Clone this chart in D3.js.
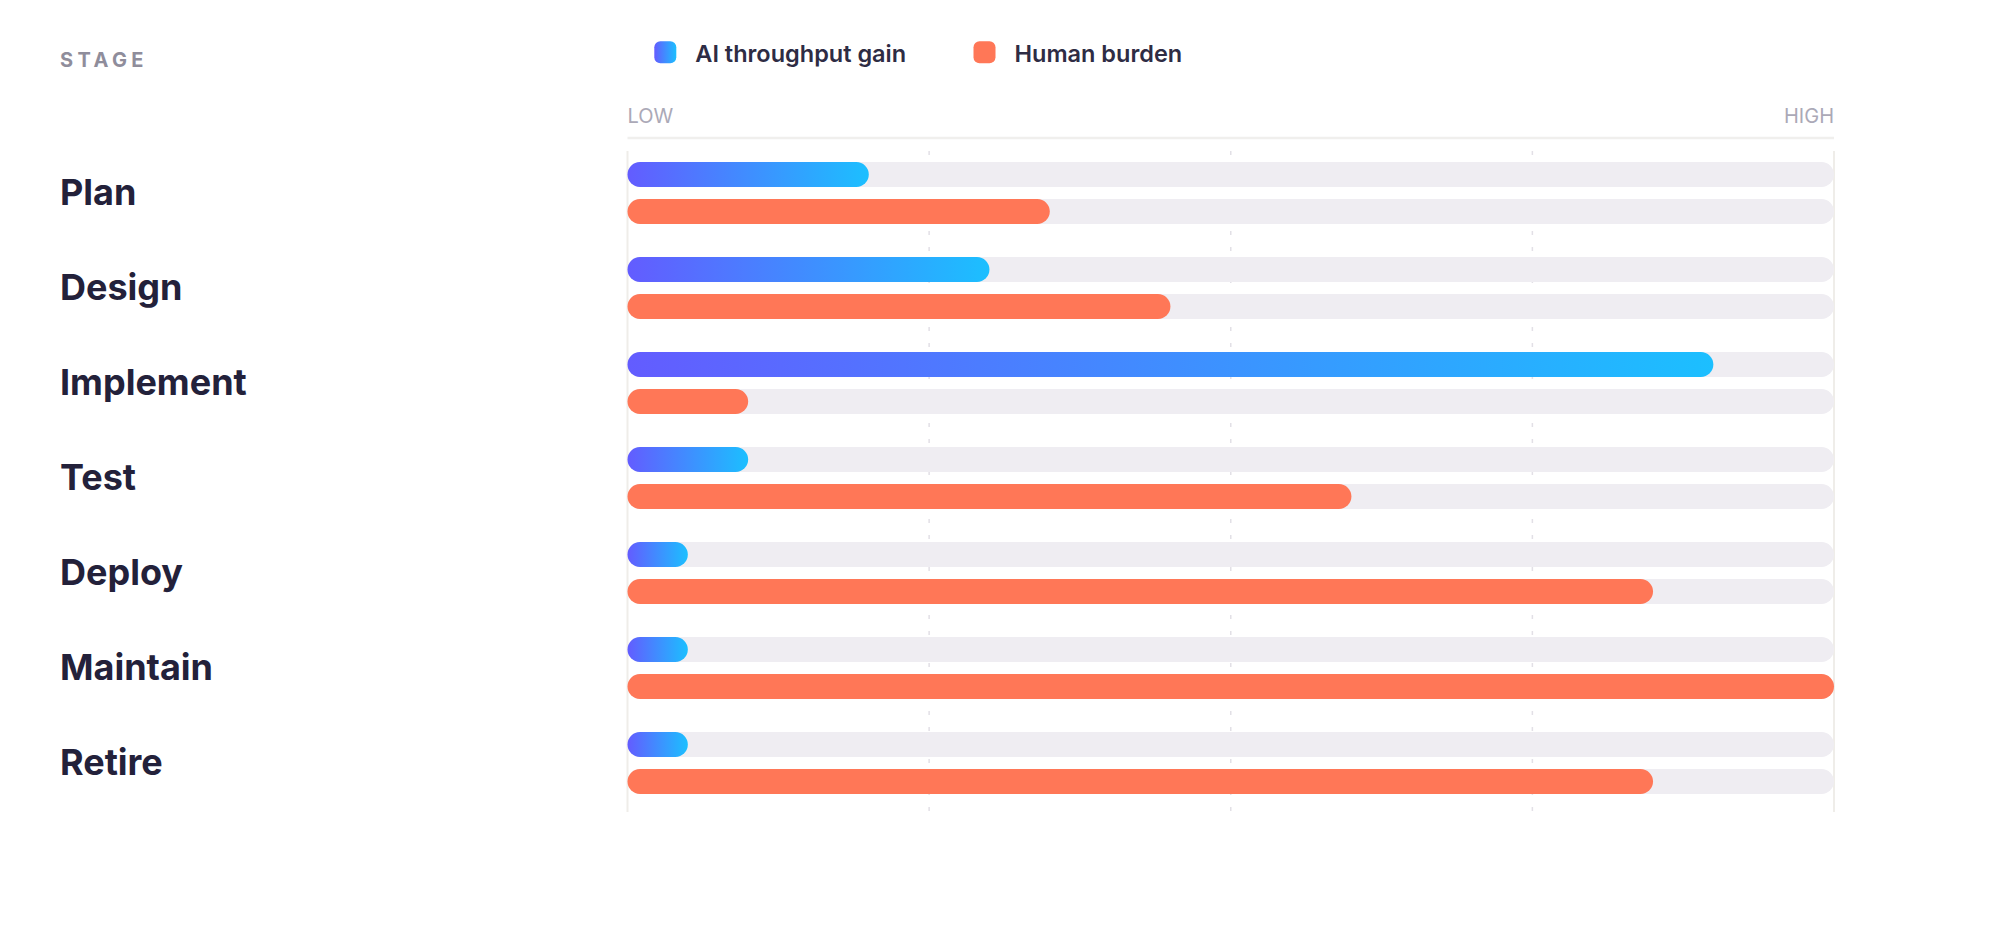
<!DOCTYPE html>
<html>
<head>
<meta charset="utf-8">
<script src="https://cdn.jsdelivr.net/npm/d3@7"></script>
<style>
  html, body { margin: 0; padding: 0; background: #fff; }
  svg { display: block; font-family: Inter, "Noto Sans", sans-serif; }
</style>
</head>
<body>
<svg id="chart" width="1999" height="940"></svg>
<script>
(function () {
  'use strict';

  // ── Data ──────────────────────────────────────────────────────────────────
  var stages     = ['Plan', 'Design', 'Implement', 'Test', 'Deploy', 'Maintain', 'Retire'];
  var aiGain     = [20, 30, 90, 10, 5, 5, 5];
  var human      = [35, 45, 10, 60, 85, 100, 85];
  var seriesKeys = ['ai', 'human'];
  var seriesName = ['AI throughput gain', 'Human burden'];
  var gridTicks  = [25, 50, 75];
  var axisLabels = ['LOW', 'HIGH'];

  var W = 1999, H = 940;
  var svg = d3.select('#chart').attr('viewBox', '0 0 ' + W + ' ' + H);

  // ── Gradient for AI bars ──────────────────────────────────────────────────
  var defs = svg.append('defs');
  var grad = defs.append('linearGradient').attr('id', 'aiGrad')
    .attr('x1', '0%').attr('x2', '100%').attr('y1', '0%').attr('y2', '0%');
  grad.append('stop').attr('offset', '0%').attr('stop-color', '#635cff');
  grad.append('stop').attr('offset', '100%').attr('stop-color', '#1cbfff');

  var fillFor = { ai: 'url(#aiGrad)', human: '#ff7757' };

  // ── Scales ────────────────────────────────────────────────────────────────
  var x = d3.scaleLinear().domain([0, 100]).range([627.5, 1834]);
  var y = d3.scaleBand().domain(stages).range([145.5, 145.5 + 95 * stages.length]);
  var ySub = d3.scaleBand().domain(seriesKeys).range([16.5, 78.5]).paddingInner(0.3243);
  var bh = ySub.bandwidth();

  // ── Header: STAGE + legend + LOW / HIGH ───────────────────────────────────
  svg.append('text')
    .attr('x', 60).attr('y', 67.3)
    .attr('font-size', 20).attr('font-weight', 700)
    .attr('letter-spacing', '4.4px')
    .attr('fill', '#8f8d9b')
    .text('STAGE');

  var legendX = [654.3, 973.5];
  var legend = svg.append('g').selectAll('g').data(seriesKeys).join('g')
    .attr('transform', function (d, i) { return 'translate(' + legendX[i] + ',41.3)'; });
  legend.append('rect')
    .attr('width', 22).attr('height', 22).attr('rx', 6)
    .attr('fill', function (d) { return fillFor[d]; });
  legend.append('text')
    .attr('x', 41).attr('y', 20.5)
    .attr('font-size', 23.5).attr('font-weight', 600)
    .attr('fill', '#2e2c44')
    .text(function (d, i) { return seriesName[i]; });

  svg.append('g').selectAll('text').data(axisLabels).join('text')
    .attr('x', function (d, i) { return x(i * 100); })
    .attr('y', 123.3)
    .attr('text-anchor', function (d, i) { return i ? 'end' : 'start'; })
    .attr('font-size', 20).attr('font-weight', 400)
    .attr('fill', '#aba9b7')
    .text(function (d) { return d; });

  svg.append('line')
    .attr('x1', x(0)).attr('x2', x(100)).attr('y1', 138).attr('y2', 138)
    .attr('stroke', '#f0efed').attr('stroke-width', 2.5);

  // ── Grid ──────────────────────────────────────────────────────────────────
  var gridTop = 151, gridBottom = 812;
  svg.append('g').selectAll('line').data(gridTicks).join('line')
    .attr('x1', function (d) { return x(d); }).attr('x2', function (d) { return x(d); })
    .attr('y1', gridTop).attr('y2', gridBottom)
    .attr('stroke', '#e2e0e6').attr('stroke-width', 1.5)
    .attr('stroke-dasharray', '4 12');

  svg.append('g').selectAll('line').data([0, 100]).join('line')
    .attr('x1', function (d) { return x(d); }).attr('x2', function (d) { return x(d); })
    .attr('y1', gridTop).attr('y2', gridBottom)
    .attr('stroke', '#efede9').attr('stroke-width', 2);

  // ── Rows ──────────────────────────────────────────────────────────────────
  var rows = stages.map(function (s, i) {
    return { stage: s, values: [{ key: 'ai', v: aiGain[i] }, { key: 'human', v: human[i] }] };
  });

  var row = svg.append('g').selectAll('g').data(rows).join('g')
    .attr('transform', function (d) { return 'translate(0,' + y(d.stage) + ')'; });

  row.append('text')
    .attr('x', 60).attr('y', y.bandwidth() / 2 + 12)
    .attr('font-size', 36).attr('font-weight', 700)
    .attr('fill', '#23213a')
    .text(function (d) { return d.stage; });

  var bar = row.selectAll('g.bar').data(function (d) { return d.values; }).join('g')
    .attr('class', 'bar')
    .attr('transform', function (d) { return 'translate(0,' + ySub(d.key) + ')'; });

  bar.append('rect')
    .attr('x', x(0)).attr('width', x(100) - x(0))
    .attr('height', bh).attr('rx', bh / 2)
    .attr('fill', '#efedf2');

  bar.append('rect')
    .attr('x', x(0)).attr('width', function (d) { return x(d.v) - x(0); })
    .attr('height', bh).attr('rx', bh / 2)
    .attr('fill', function (d) { return fillFor[d.key]; });
})();
</script>
</body>
</html>
